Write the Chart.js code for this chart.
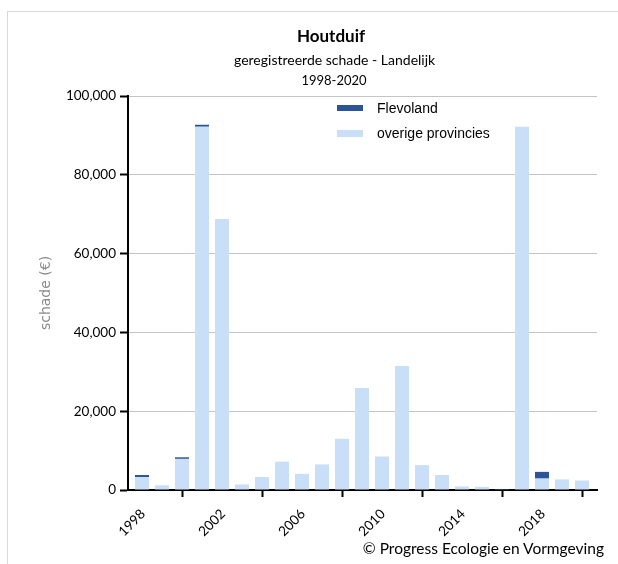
<!DOCTYPE html>
<html>
<head>
<meta charset="utf-8">
<script src="https://cdn.jsdelivr.net/npm/chart.js@4"></script>
<style>
  html, body { margin: 0; padding: 0; background: #fff; }
  #wrap { position: relative; width: 618px; height: 564px; overflow: hidden; }
  #frame { position: absolute; left: 7px; top: 11px; width: 700px; height: 700px; border: 1px solid #d9d9d9; }
  #c { position: absolute; left: 0; top: 0; }
  .t { position: absolute; left: 234px; width: 200px; text-align: center; color: #000; font-family: Lato, "Open Sans", sans-serif; white-space: nowrap; }
  #title { top: 25px; font-weight: bold; font-size: 17px; left: 231px; }
  #sub { top: 51px; font-size: 14px; }
  #yrs { top: 72px; font-size: 13px; }
  #copy { position: absolute; right: 14px; top: 539px; font-family: Lato, "Open Sans", sans-serif; font-size: 15.5px; color: #000; white-space: nowrap; }
  #legend { position: absolute; left: 337px; top: 98px; font-family: "Liberation Sans", Arial, sans-serif; font-size: 14px; color: #000; }
  .li { position: relative; height: 25px; }
  .sw { position: absolute; left: 0; width: 26px; }
  .lt { position: absolute; left: 40px; top: 2px; white-space: nowrap; }
</style>
</head>
<body>
<div id="wrap">
  <div id="frame"></div>
  <canvas id="c" width="618" height="564"></canvas>
  <div class="t" id="title">Houtduif</div>
  <div class="t" id="sub">geregistreerde schade - Landelijk</div>
  <div class="t" id="yrs">1998-2020</div>
  <div id="legend"></div>
  <div id="copy">© Progress Ecologie en Vormgeving</div>
</div>
<script>
const years = [1998,1999,2000,2001,2002,2003,2004,2005,2006,2007,2008,2009,2010,2011,2012,2013,2014,2015,2016,2017,2018,2019,2020];
const overige = [3300, 1200, 7900, 92200, 68800, 1400, 3300, 7200, 4100, 6500, 13000, 25900, 8500, 31500, 6300, 3800, 900, 800, 100, 92200, 2900, 2700, 2400];
const flevoland = [500, 0, 400, 500, 0, 0, 0, 0, 0, 0, 0, 0, 0, 0, 0, 0, 0, 0, 100, 0, 1700, 0, 0];
const xTicks = [1998, 2002, 2006, 2010, 2014, 2018];
const yTicks = [0, 20000, 40000, 60000, 80000, 100000];
const seriesNames = ["overige provincies", "Flevoland"];
const seriesColors = ["#c9def7", "#2c5597"];

const datasets = [
  { label: seriesNames[0], data: overige.map((v, i) => ({ x: years[i], y: v })), backgroundColor: seriesColors[0], barPercentage: 0.7, categoryPercentage: 1.0 },
  { label: seriesNames[1], data: flevoland.map((v, i) => ({ x: years[i], y: v })), backgroundColor: seriesColors[1], barPercentage: 0.7, categoryPercentage: 1.0 }
];

// HTML legend built from datasets (Flevoland first)
const leg = document.getElementById('legend');
[1, 0].forEach((i, k) => {
  const d = document.createElement('div'); d.className = 'li';
  const s = document.createElement('div'); s.className = 'sw';
  s.style.background = datasets[i].backgroundColor;
  s.style.top = '7px';
  s.style.height = (k === 0 ? 6 : 7) + 'px';
  const t = document.createElement('div'); t.className = 'lt'; t.textContent = datasets[i].label;
  d.appendChild(s); d.appendChild(t); leg.appendChild(d);
});

const tickFont = { family: "Lato, 'Open Sans', sans-serif", size: 13.5 };

new Chart(document.getElementById('c'), {
  type: 'bar',
  data: { datasets: datasets },
  options: {
    responsive: false,
    animation: false,
    layout: { padding: { top: 96, bottom: 24, left: 0, right: 21 } },
    plugins: { legend: { display: false }, title: { display: false }, tooltip: { enabled: false } },
    scales: {
      x: {
        type: 'linear',
        stacked: true,
        min: 1997.3,
        max: 2020.75,
        offset: false,
        afterFit: (s) => { s.height = 50; },
        afterBuildTicks: (s) => { s.ticks = xTicks.map(v => ({ value: v })); },
        grid: {
          drawOnChartArea: false,
          drawTicks: true,
          tickLength: 7,
          tickWidth: 2,
          tickColor: '#000'
        },
        border: { display: true, color: '#000', width: 2 },
        ticks: {
          autoSkip: false,
          maxRotation: 45,
          minRotation: 45,
          padding: 9,
          labelOffset: 1,
          color: '#000',
          font: tickFont,
          callback: (v) => String(v)
        }
      },
      y: {
        stacked: true,
        min: 0,
        max: 100000,
        afterFit: (s) => { s.width = 128; },
        afterBuildTicks: (s) => { s.ticks = yTicks.map(v => ({ value: v })); },
        grid: {
          color: '#c4c4c4',
          lineWidth: 1,
          tickColor: '#000',
          tickLength: 8,
          tickWidth: 2
        },
        border: { display: true, color: '#000', width: 2 },
        ticks: {
          padding: 4,
          color: '#000',
          font: tickFont,
          callback: (v) => v.toLocaleString('en-US')
        },
        title: {
          display: true,
          text: 'schade (€)',
          color: '#8a8a8a',
          font: { family: "'DejaVu Sans', sans-serif", size: 14 },
          padding: { top: 38, bottom: 0 }
        }
      }
    }
  }
});
</script>
</body>
</html>
